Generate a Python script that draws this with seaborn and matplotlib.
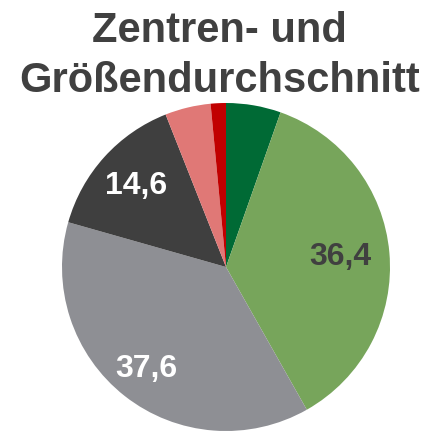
import matplotlib.pyplot as plt
import seaborn as sns
import numpy as np

sns.set_theme(style="white")
plt.rcParams['font.family'] = ['Liberation Sans', 'DejaVu Sans']

# slices clockwise from 12 o'clock
shares = [5.4, 36.4, 37.6, 14.6, 4.5, 1.5]
labels = ['', '36,4', '37,6', '14,6', '', '']
colors = ['#006a35', '#77a55b', '#8e8f94', '#3f3f3f', '#e07876', '#c10000']
label_colors = ['white', '#404040', 'white', 'white', 'white', 'white']
label_dist = [0.7, 0.7, 0.79, 0.74, 0.7, 0.7]

fig = plt.figure(figsize=(4.3, 4.32), dpi=100)
ax = fig.add_axes([62 / 430, 1 / 432, 328 / 430, 328 / 432])

wedges, _ = ax.pie(shares, colors=colors, startangle=90, counterclock=False,
                   wedgeprops=dict(linewidth=0))
for w, lab, c, d in zip(wedges, labels, label_colors, label_dist):
    if not lab:
        continue
    ang = np.deg2rad((w.theta1 + w.theta2) / 2)
    ax.text(d * np.cos(ang), d * np.sin(ang), lab, ha='center', va='center',
            fontsize=23, fontweight='bold', color=c)
ax.set_xlim(-1, 1)
ax.set_ylim(-1, 1)
ax.set_aspect('equal')

fig.text(0.51, 0.928, 'Zentren- und', ha='center', va='center',
         fontsize=30, fontweight='bold', color='#404040')
fig.text(0.51, 0.812, 'Größendurchschnitt', ha='center', va='center',
         fontsize=30, fontweight='bold', color='#404040')

fig.savefig('out.png', dpi=100)
